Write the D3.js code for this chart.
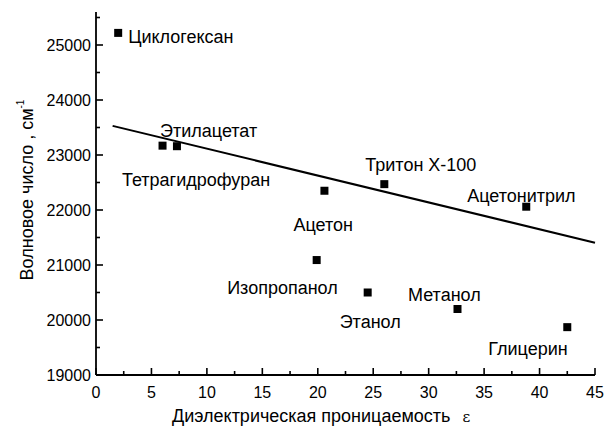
<!DOCTYPE html>
<html>
<head>
<meta charset="utf-8">
<script src="https://cdn.jsdelivr.net/npm/d3@7"></script>
<style>
  html, body { margin: 0; padding: 0; background: #fff; }
  svg text { font-family: "Liberation Sans", Arial, sans-serif; fill: #000; }
</style>
</head>
<body>
<svg id="chart" width="606" height="430"></svg>
<script>
// Solvents: dielectric constant (x) and wavenumber of the band maximum (y)
const solvents = ["Циклогексан", "Этилацетат", "Тетрагидрофуран", "Ацетон", "Тритон X-100",
                  "Ацетонитрил", "Изопропанол", "Этанол", "Метанол", "Глицерин"];
const epsilon = [2.0, 6.0, 7.3, 20.6, 26.0, 38.8, 19.9, 24.5, 32.6, 42.5];
const wavenumber = [25220, 23170, 23160, 22350, 22470, 22060, 21090, 20500, 20200, 19870];

// Label anchor offsets (px) relative to each point
const labelDx = [10, -2.5, -55, -31, -19, -59, -89.5, -28, -49.5, -79];
const labelDy = [10, -9, 40, 40, -13.5, -4.5, 34, 35, -8, 28];

// Linear fit drawn across the plot
const fitX = [1.5, 45];
const fitY = [23530, 21405];

// Axis ticks
const xTicks = [0, 5, 10, 15, 20, 25, 30, 35, 40, 45];
const xMinor = [2.5, 7.5, 12.5, 17.5, 22.5, 27.5, 32.5, 37.5, 42.5];
const yTicks = [19000, 20000, 21000, 22000, 23000, 24000, 25000];
const yMinor = [19500, 20500, 21500, 22500, 23500, 24500, 25500];

const svg = d3.select("#chart");
const x = d3.scaleLinear().domain([0, 45]).range([96, 595]);
const y = d3.scaleLinear().domain([19000, 25600]).range([375, 12]);

const tickFont = 16;
const labelFont = 18;

// x axis
const xAxis = svg.append("g").attr("transform", `translate(0,${y(19000)})`);
xAxis.append("line").attr("x1", x(0)).attr("x2", x(45)).attr("stroke", "#000").attr("stroke-width", 1.8);
xAxis.selectAll(".xmaj").data(xTicks).enter().append("line")
  .attr("x1", d => x(d)).attr("x2", d => x(d)).attr("y1", 0).attr("y2", -7)
  .attr("stroke", "#000").attr("stroke-width", 1.6);
xAxis.selectAll(".xmin").data(xMinor).enter().append("line")
  .attr("x1", d => x(d)).attr("x2", d => x(d)).attr("y1", 0).attr("y2", -4)
  .attr("stroke", "#000").attr("stroke-width", 1.6);
xAxis.selectAll(".xlab").data(xTicks).enter().append("text")
  .attr("x", d => x(d)).attr("y", 23).attr("text-anchor", "middle")
  .attr("font-size", tickFont).text(d => d);

// y axis
const yAxis = svg.append("g").attr("transform", `translate(${x(0)},0)`);
yAxis.append("line").attr("y1", y(19000)).attr("y2", y(25600)).attr("stroke", "#000").attr("stroke-width", 1.8);
yAxis.selectAll(".ymaj").data(yTicks).enter().append("line")
  .attr("y1", d => y(d)).attr("y2", d => y(d)).attr("x1", 0).attr("x2", 7)
  .attr("stroke", "#000").attr("stroke-width", 1.6);
yAxis.selectAll(".ymin").data(yMinor).enter().append("line")
  .attr("y1", d => y(d)).attr("y2", d => y(d)).attr("x1", 0).attr("x2", 4)
  .attr("stroke", "#000").attr("stroke-width", 1.6);
yAxis.selectAll(".ylab").data(yTicks).enter().append("text")
  .attr("x", -5).attr("y", d => y(d) + 6).attr("text-anchor", "end")
  .attr("font-size", tickFont).text(d => d);

// axis titles
svg.append("text").attr("x", 172).attr("y", 422).attr("font-size", labelFont)
  .text("Диэлектрическая проницаемость  ")
  .append("tspan").attr("dx", 7).attr("font-family", "'DejaVu Serif', serif").attr("font-size", 15).text("ε");

const yTitle = svg.append("text").attr("transform", "translate(33,190) rotate(-90)")
  .attr("text-anchor", "middle").attr("font-size", labelFont);
yTitle.append("tspan").text("Волновое число , см");
yTitle.append("tspan").attr("font-size", 10).attr("dy", -9).text("-1");

// fit line
svg.append("line")
  .attr("x1", x(fitX[0])).attr("y1", y(fitY[0]))
  .attr("x2", x(fitX[1])).attr("y2", y(fitY[1]))
  .attr("stroke", "#000").attr("stroke-width", 2);

// points
const pts = solvents.map((s, i) => ({ name: s, e: epsilon[i], w: wavenumber[i], dx: labelDx[i], dy: labelDy[i] }));
svg.selectAll(".pt").data(pts).enter().append("rect")
  .attr("x", d => x(d.e) - 4).attr("y", d => y(d.w) - 4)
  .attr("width", 8).attr("height", 8).attr("fill", "#000");

// labels
svg.selectAll(".lab").data(pts).enter().append("text")
  .attr("x", d => x(d.e) + d.dx).attr("y", d => y(d.w) + d.dy)
  .attr("font-size", labelFont).text(d => d.name);
</script>
</body>
</html>
